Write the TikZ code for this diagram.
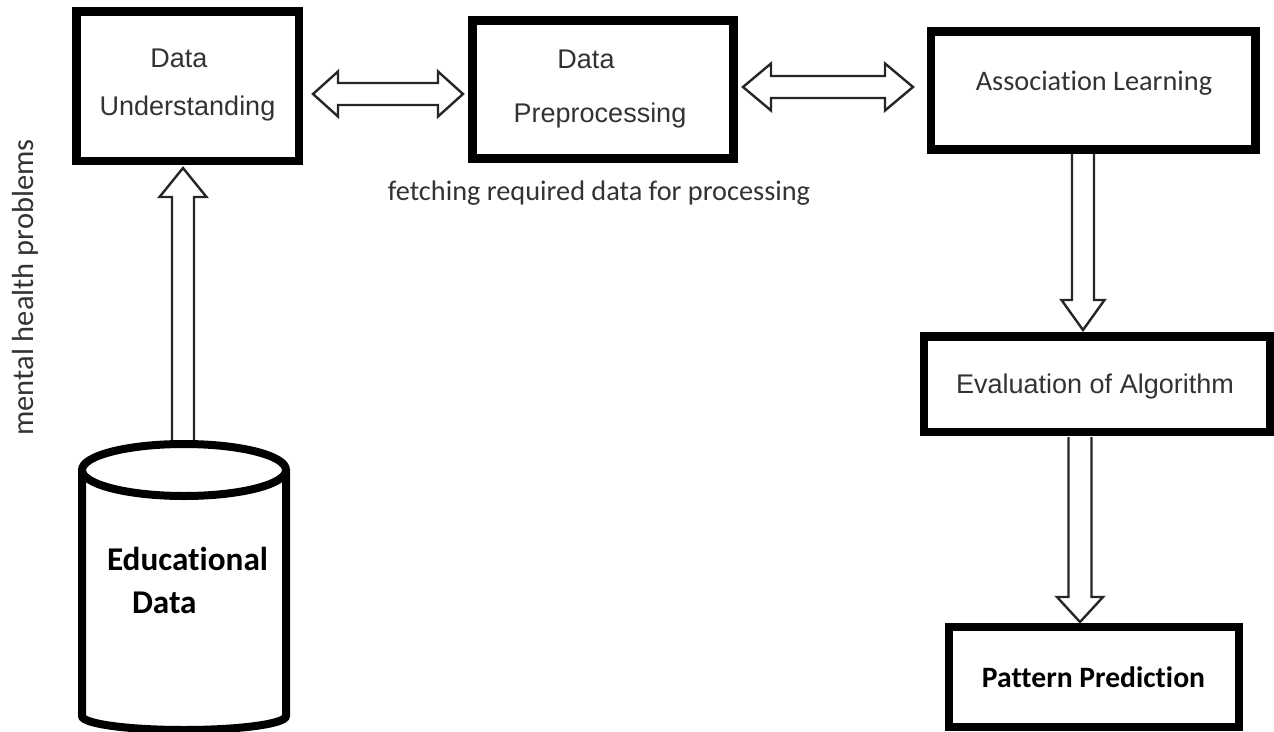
\documentclass[tikz,border=0pt]{standalone}
\usepackage{fontspec}
\setmainfont{Carlito}[Ligatures=NoCommon]
\newfontfamily\arialike{Liberation Sans}
\usetikzlibrary{calc}

% hollow vertical block arrow: tip, tail, shaft half-width, head half-width, signed head length
\newcommand\blockarrowv[5]{%
  \draw[blk] ($(#1|-#2)+(-#3,0)$) -- ($(#1)+(-#3,#5)$) -- ($(#1)+(-#4,#5)$) -- (#1)
    -- ($(#1)+(#4,#5)$) -- ($(#1)+(#3,#5)$) -- ($(#1|-#2)+(#3,0)$);}
% hollow horizontal double block arrow: left tip, right tip, shaft half-width, head half-width, head length
\newcommand\blockarrowh[5]{%
  \draw[blk] (#1) -- ($(#1)+(#5,-#4)$) -- ($(#1)+(#5,-#3)$) -- ($(#2)+(-#5,-#3)$)
    -- ($(#2)+(-#5,-#4)$) -- (#2) -- ($(#2)+(-#5,#4)$) -- ($(#2)+(-#5,#3)$)
    -- ($(#1)+(#5,#3)$) -- ($(#1)+(#5,#4)$) -- cycle;}

\tikzset{
  box/.style={draw=black, line width=8.5pt, rectangle, outer sep=0pt, inner sep=0pt},
  blk/.style={draw=black!85, line width=2.4pt, line join=miter},
  cyl/.style={draw=black, line width=8pt},
  lbl/.style={anchor=base, inner sep=0pt, outer sep=0pt, text=black!80},
  arial/.style={lbl, font=\arialike\fontsize{27}{30}\selectfont},
  cal/.style={lbl, font=\fontsize{28.3}{32}\selectfont},
  boldlbl/.style={lbl, text=black, font=\bfseries\fontsize{29.6}{33}\selectfont},
}

\begin{document}
\begin{tikzpicture}[x=1pt,y=-1pt]
\useasboundingbox (0,0) rectangle (1274,731);
\fill[white] (0,0) rectangle (1274,731);

% process boxes
\node[box, minimum width=222.5pt, minimum height=149.5pt] (du) at (187.5,86) {};
\node[box, minimum width=261pt, minimum height=138pt] (dp) at (603,89.5) {};
\node[box, minimum width=324.5pt, minimum height=118pt] (al) at (1093.25,90.5) {};
\node[box, minimum width=346pt, minimum height=95.5pt] (ea) at (1097,384.25) {};
\node[box, minimum width=290pt, minimum height=100pt] (pp) at (1094,677) {};

% box texts
\node[arial] (du1) at (179,67) {Data};
\node[arial] (du2) at (187.5,115) {Understanding};
\node[arial] (dp1) at (586,68) {Data};
\node[arial] (dp2) at (600,122) {Preprocessing};
\node[cal] (al1) at (1094,90) {Association Learning};
\node[arial] (ea1) at (1095,393) {Evaluation of Algorithm};
\node[boldlbl] (pp1) at (1093.5,687) {Pattern Prediction};

% free-standing captions
\node[cal] (fetch) at (599,200) {fetching required data for processing};
\node[cal, rotate=90, font=\fontsize{30.5}{34}\selectfont] (mh) at (33,287.5) {mental health problems};

% database cylinder
\draw[cyl] (82,470) -- (82,716) arc[start angle=180, end angle=0, x radius=102, y radius=14] -- (286,470);
\draw[cyl] (184,470) ellipse [x radius=102, y radius=26];
\coordinate (db) at (183,440);
\node[boldlbl, anchor=base west, font=\bfseries\fontsize{33.2}{36}\selectfont] (ed1) at (107,570) {Educational};
\node[boldlbl, anchor=base west, font=\bfseries\fontsize{33.2}{36}\selectfont] (ed2) at (132,613) {Data};

% arrow end points
\coordinate (uptip) at ($(du.south)+(-4.5,7.25)$);
\coordinate (h1l) at ($(du.east)+(14.25,8)$);
\coordinate (h1r) at ($(dp.west)+(-9.5,4.5)$);
\coordinate (h2l) at ($(dp.east)+(9.5,-2.5)$);
\coordinate (h2r) at ($(al.west)+(-18,-3.5)$);
\coordinate (d1tip) at ($(ea.north)+(-14,-6.5)$);
\coordinate (d1tail) at ($(al.south)+(0,4.5)$);
\coordinate (d2tip) at ($(pp.north)+(-14,-5)$);
\coordinate (d2tail) at ($(ea.south)+(0,5)$);

% block arrows
\blockarrowv{uptip}{db}{11}{23.5}{29}
\blockarrowh{h1l}{h1r}{11}{22.5}{25}
\blockarrowh{h2l}{h2r}{11}{23.5}{28}
\blockarrowv{d1tip}{d1tail}{11}{21.5}{-30}
\blockarrowv{d2tip}{d2tail}{11.5}{23}{-25}
\end{tikzpicture}
\end{document}
